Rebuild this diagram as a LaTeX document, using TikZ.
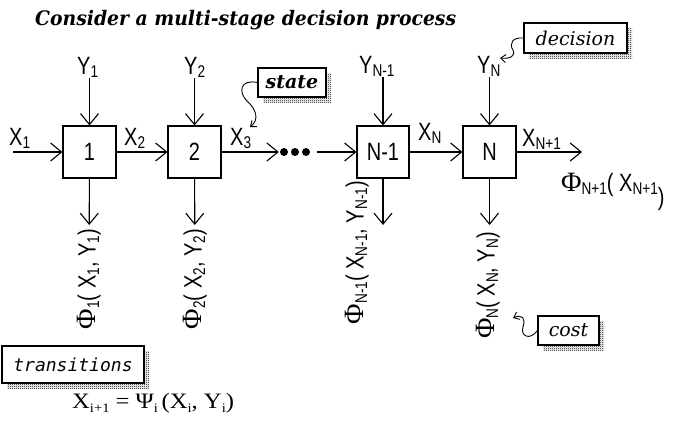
\documentclass[tikz,border=0pt]{standalone}
\usepackage{fontspec}
\usetikzlibrary{arrows.meta,patterns}
\newfontfamily\labfont[FakeStretch=0.8]{Liberation Sans}
\newfontfamily\phifont{Liberation Serif}
\newfontfamily\lawfont[FakeStretch=1.12]{Liberation Serif}
\newfontfamily\tagfont{DejaVu Serif}
\newfontfamily\headfont[FakeStretch=0.94]{DejaVu Serif}
\newfontfamily\typefont{DejaVu Sans Mono}
% fine checkerboard stipple for the box shadows
\pgfdeclarepatternformonly{stipple}{\pgfpointorigin}{\pgfpoint{2pt}{2pt}}{\pgfpoint{2pt}{2pt}}{%
  \pgfpathrectangle{\pgfpointorigin}{\pgfpoint{1pt}{1pt}}%
  \pgfpathrectangle{\pgfpoint{1pt}{1pt}}{\pgfpoint{1pt}{1pt}}%
  \pgfusepath{fill}}
% subscript in the label font, set a little smaller and lowered
\newcommand\sbx[1]{\raisebox{-3.5pt}{\fontsize{17}{17}\selectfont #1}}
% subscript for the serif transition formula
\newcommand\ssb[1]{\raisebox{-4pt}{\fontsize{13}{13}\selectfont #1}}
\newcommand\Ph{{\phifont\fontsize{28}{28}\selectfont Φ}}
\begin{document}
\begin{tikzpicture}[x=1pt,y=-1pt,
  lab/.style={font=\labfont\fontsize{25}{25}\selectfont, inner sep=0pt},
  stage/.style={draw, line width=1.1pt, minimum width=53pt, minimum height=52pt, inner sep=0pt, lab},
  flow/.style={line width=1.1pt, -{Straight Barb[length=11pt,width=18pt]}},
  tagbox/.style={inner sep=0pt, font=\tagfont\itshape\fontsize{19}{19}\selectfont},
  tag/.style={tagbox, draw, fill=white, line width=1.1pt},
  tagshadow/.style={tagbox, pattern=stipple},
  hint/.style={line width=0.9pt, -{Straight Barb[length=5pt,width=8pt]}},
]
\useasboundingbox (0,0) rectangle (686,423);

% heading
\node[anchor=base west, inner sep=0pt, font=\headfont\bfseries\itshape\fontsize{20}{20}\selectfont]
  (title) at (35,25) {Consider a multi-stage decision process};

% stages
\node[stage] (s1) at (89.5,152) {1};
\node[stage] (s2) at (194.5,152) {2};
\node[stage, minimum width=52pt] (sN1) at (383,152) {N-1};
\node[stage] (sN) at (489.5,152) {N};

% state chain
\coordinate (in1) at (13,152);
\coordinate (outN) at (582,152);
\node[minimum width=32pt, minimum height=9pt, inner sep=0pt] (dots) at (295,152) {};
\foreach \dx in {-11,0,11} \fill ([xshift=\dx pt]dots.center) circle (4);

\draw[flow] (in1) -- (s1);
\draw[flow] (s1) -- (s2);
\draw[flow] (s2) -- (dots);
\draw[flow, shorten <=6pt] (dots) -- (sN1);
\draw[flow] (sN1) -- (sN);
\draw[flow] (sN) -- (outN);

\node[lab, anchor=base west] (x1) at (9,145) {X\sbx{1}};
\node[lab, anchor=base west] (x2) at (124,145) {X\sbx{2}};
\node[lab, anchor=base west] (x3) at (230,145) {X\sbx{3}};
\node[lab, anchor=base west] (xN) at (418,140) {X\sbx{N}};
\node[lab, anchor=base west] (xN1) at (522,146) {X\sbx{N+1}};

% decisions
\node[lab, anchor=base west] (y1) at (77,74) {Y\sbx{1}};
\node[lab, anchor=base west] (y2) at (184,74) {Y\sbx{2}};
\node[lab, anchor=base west] (yN1) at (359,73) {Y\sbx{N-1}};
\node[lab, anchor=base west] (yN) at (477,73) {Y\sbx{N}};

\draw[flow] (y1.south -| s1.north) -- (s1.north);
\draw[flow] (y2.south -| s2.north) -- (s2.north);
\draw[flow] (yN1.south -| sN1.north) -- (sN1.north);
\draw[flow] (yN.south -| sN.north) -- (sN.north);

% stage costs
\node[lab, rotate=90, anchor=east] (p1) at (89,229) {\Ph\sbx{1}( X\sbx{1}, Y\sbx{1})};
\node[lab, rotate=90, anchor=east] (p2) at (195,229) {\Ph\sbx{2}( X\sbx{2}, Y\sbx{2})};
\node[lab, rotate=90, anchor=east] (pN1) at (357,181) {\Ph\sbx{N-1}( X\sbx{N-1}, Y\sbx{N-1})};
\node[lab, rotate=90, anchor=east] (pN) at (488,232) {\Ph\sbx{N}( X\sbx{N}, Y\sbx{N})};
\coordinate (dN1) at (383,225);

\draw[flow, shorten >=4pt] (s1) -- (p1);
\draw[flow, shorten >=4pt] (s2) -- (p2);
\draw[flow] (sN1) -- (dN1);
\draw[flow, shorten >=7pt] (sN.south) -- (sN.south |- pN.east);

% terminal cost
\node[lab, anchor=base west] (pout) at (561,191) {\Ph\sbx{N+1}( X\sbx{N+1}\raisebox{-14pt}{)}};

% annotation boxes: a stippled copy offset down-right, then the white box on top
\node[tagshadow, minimum width=68pt, minimum height=29pt] (stateSh) at (297,87.5) {};
\node[tag, font=\tagfont\bfseries\itshape\fontsize{19}{19}\selectfont, minimum width=68pt, minimum height=29pt] (state) at (292,82.5) {state};
\node[tagshadow, minimum width=103pt, minimum height=30pt] (decisionSh) at (580.5,43) {};
\node[tag, minimum width=103pt, minimum height=30pt] (decision) at (575.5,38) {decision};
\node[tagshadow, minimum width=61pt, minimum height=29pt] (costSh) at (573.5,335.5) {};
\node[tag, minimum width=61pt, minimum height=29pt] (cost) at (568.5,330.5) {cost};
\node[tagshadow, minimum width=142pt, minimum height=37pt] (transitionsSh) at (78,369.5) {};
\node[tag, font=\typefont\itshape\fontsize{18}{18}\selectfont, minimum width=142pt, minimum height=37pt] (transitions) at (73,364.5) {transitions};

\coordinate (stateTip) at (250,127);
\coordinate (decisionTip) at (500,58);
\coordinate (costTip) at (513,318);

\draw[hint] (state.west) .. controls (240,79) and (238,92) .. (247,101)
  .. controls (257,110) and (259,120) .. (stateTip);
\draw[hint] (decision.west) .. controls (512,37) and (509,44) .. (513,50)
  .. controls (516,56) and (510,59) .. (decisionTip);
\draw[hint] (cost.west) .. controls (530,341) and (520,336) .. (523,327)
  .. controls (526,318) and (522,314) .. (costTip);

% transition law
\node[anchor=base west, inner sep=0pt, font=\lawfont\fontsize{22}{22}\selectfont]
  (law) at (72,408) {X\ssb{i+1} = Ψ\ssb{i}\,(X\ssb{i}, Y\ssb{i})};
\end{tikzpicture}
\end{document}
